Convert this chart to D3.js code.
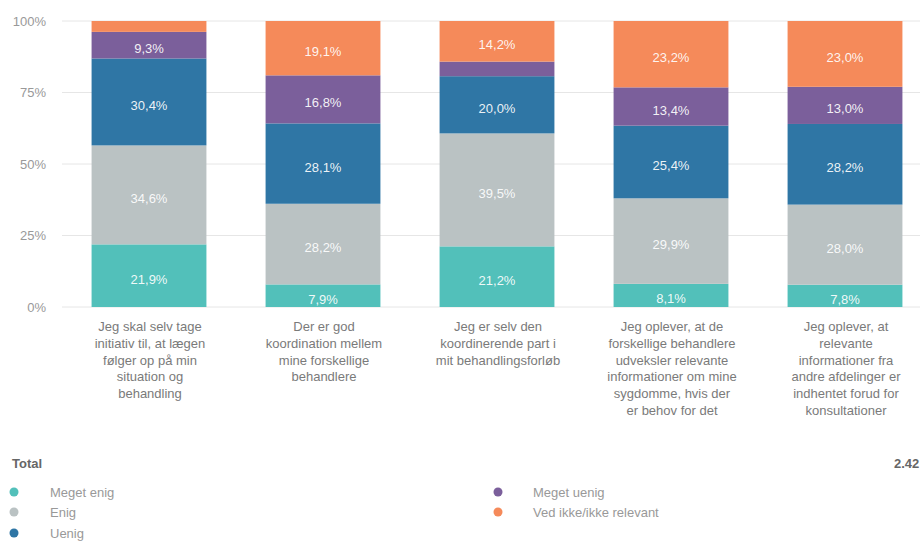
<!DOCTYPE html>
<html>
<head>
<meta charset="utf-8">
<script src="https://cdn.jsdelivr.net/npm/d3@7/dist/d3.min.js"></script>
<style>
  html, body { margin: 0; padding: 0; background: #fff; }
  svg { display: block; font-family: Arial, "Liberation Sans", sans-serif; }
</style>
</head>
<body>
<svg id="chart" width="920" height="542"></svg>
<script>
// Statements (x categories)
const categories = [
  "Jeg skal selv tage initiativ til, at lægen følger op på min situation og behandling",
  "Der er god koordination mellem mine forskellige behandlere",
  "Jeg er selv den koordinerende part i mit behandlingsforløb",
  "Jeg oplever, at de forskellige behandlere udveksler relevante informationer om mine sygdomme, hvis der er behov for det",
  "Jeg oplever, at relevante informationer fra andre afdelinger er indhentet forud for konsultationer"
];
// Manual line breaks for the category labels
const categoryLines = [
  ["Jeg skal selv tage", "initiativ til, at lægen", "følger op på min", "situation og", "behandling"],
  ["Der er god", "koordination mellem", "mine forskellige", "behandlere"],
  ["Jeg er selv den", "koordinerende part i", "mit behandlingsforløb"],
  ["Jeg oplever, at de", "forskellige behandlere", "udveksler relevante", "informationer om mine", "sygdomme, hvis der", "er behov for det"],
  ["Jeg oplever, at", "relevante", "informationer fra", "andre afdelinger er", "indhentet forud for", "konsultationer"]
];

// Answer series (bottom to top), percentages
const seriesNames = ["Meget enig", "Enig", "Uenig", "Meget uenig", "Ved ikke/ikke relevant"];
const megetEnig  = [21.9, 7.9, 21.2, 8.1, 7.8];
const enig       = [34.6, 28.2, 39.5, 29.9, 28.0];
const uenig      = [30.4, 28.1, 20.0, 25.4, 28.2];
const megetUenig = [9.3, 16.8, 5.1, 13.4, 13.0];
const vedIkke    = [3.8, 19.1, 14.2, 23.2, 23.0];
const seriesColors = ["#52c0ba", "#bac2c3", "#2f76a5", "#7b5f9b", "#f58a5a"];

const yTicks = [0, 25, 50, 75, 100];
const totalLabel = "Total";
const totalValue = "2.42";

const seriesValues = [megetEnig, enig, uenig, megetUenig, vedIkke];
const rows = categories.map((c, i) => {
  const r = { category: c };
  seriesNames.forEach((s, k) => r[s] = seriesValues[k][i]);
  return r;
});

const svg = d3.select("#chart");
const plot = { left: 62, right: 932, top: 21, bottom: 307 };

const x = d3.scaleBand().domain(categories).range([plot.left, plot.right]).paddingInner(0.34).paddingOuter(0.17);
const y = d3.scaleLinear().domain([0, 100]).range([plot.bottom, plot.top]);

// Gridlines
svg.append("g").selectAll("line").data(yTicks).join("line")
  .attr("x1", plot.left).attr("x2", 920)
  .attr("y1", d => y(d)).attr("y2", d => y(d))
  .attr("stroke", "#e6e6e6").attr("stroke-width", 1);

// Y axis labels
const yAxis = d3.axisLeft(y).tickValues(yTicks).tickSize(0).tickPadding(0).tickFormat(d => d + "%");
svg.append("g").attr("transform", `translate(${46},0)`).call(yAxis)
  .call(g => g.select(".domain").remove())
  .call(g => g.selectAll("text").attr("fill", "#999").attr("font-size", 13).attr("font-family", "Arial, 'Liberation Sans', sans-serif"));

// Stacked bars
const stack = d3.stack().keys(seriesNames);
const layers = stack(rows);

const layerG = svg.append("g").selectAll("g").data(layers).join("g")
  .attr("fill", (d, i) => seriesColors[i]);

layerG.selectAll("rect").data(d => d).join("rect")
  .attr("x", d => x(d.data.category))
  .attr("width", x.bandwidth())
  .attr("y", d => y(Math.min(100, d[1])))
  .attr("height", d => y(d[0]) - y(Math.min(100, d[1])));

// Value labels inside segments
const fmt = v => v.toFixed(1).replace(".", ",") + "%";
layerG.selectAll("text").data(d => d.map(p => ({ p, key: d.key }))).join("text")
  .filter(d => (d.p[1] - d.p[0]) >= 7)
  .attr("x", d => x(d.p.data.category) + x.bandwidth() / 2)
  .attr("y", d => (y(d.p[0]) + y(d.p[1])) / 2 + 3.5)
  .attr("text-anchor", "middle")
  .attr("dominant-baseline", "central")
  .attr("fill", "#ffffff")
  .attr("fill-opacity", 0.92)
  .attr("font-size", 13)
  .text(d => fmt(d.p.data[d.key]));

// Category labels
const catG = svg.append("g").selectAll("text").data(categories).join("text")
  .attr("x", d => x(d) + x.bandwidth() / 2 + 1)
  .attr("y", 331)
  .attr("text-anchor", "middle")
  .attr("fill", "#7a7a7a")
  .attr("font-size", 13);
catG.each(function (d, i) {
  d3.select(this).selectAll("tspan").data(categoryLines[i]).join("tspan")
    .attr("x", x(d) + x.bandwidth() / 2 + 1)
    .attr("dy", (t, k) => k === 0 ? 0 : 16.8)
    .text(t => t);
});

// Legend
svg.append("text").attr("x", 12).attr("y", 468)
  .attr("font-size", 13).attr("font-weight", "bold").attr("fill", "#666")
  .text(totalLabel);
svg.append("text").attr("x", 894).attr("y", 468).attr("text-anchor", "start")
  .attr("font-size", 13).attr("font-weight", "bold").attr("fill", "#666")
  .text(totalValue);

const legendPos = [
  { cx: 14, tx: 50, cy: 492 },
  { cx: 14, tx: 50, cy: 512 },
  { cx: 14, tx: 50, cy: 533 },
  { cx: 498, tx: 533, cy: 492 },
  { cx: 498, tx: 533, cy: 512 }
];
const legend = svg.append("g").selectAll("g").data(seriesNames).join("g");
legend.append("circle")
  .attr("cx", (d, i) => legendPos[i].cx)
  .attr("cy", (d, i) => legendPos[i].cy)
  .attr("r", 4.5)
  .attr("fill", (d, i) => seriesColors[i]);
legend.append("text")
  .attr("x", (d, i) => legendPos[i].tx)
  .attr("y", (d, i) => legendPos[i].cy)
  .attr("dominant-baseline", "central")
  .attr("font-size", 13)
  .attr("fill", "#999")
  .text(d => d);
</script>
</body>
</html>
